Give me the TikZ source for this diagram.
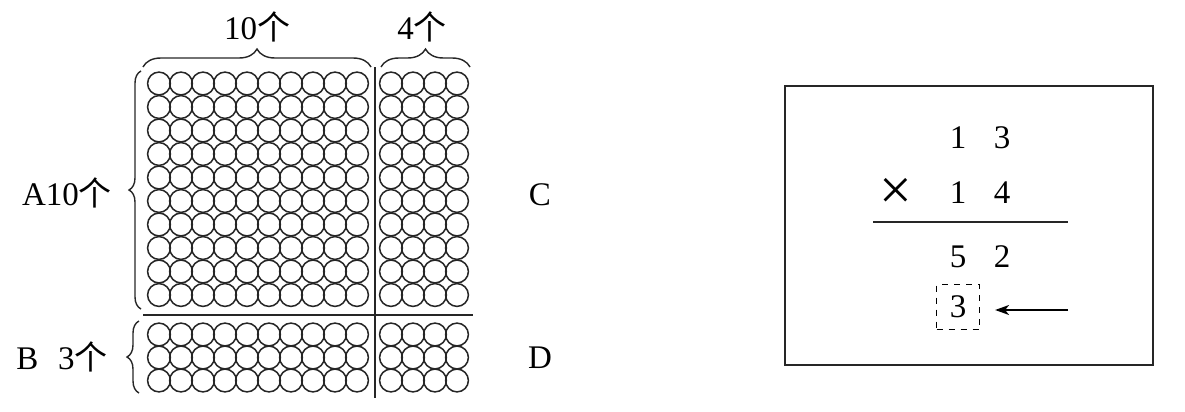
\documentclass[tikz,border=0pt]{standalone}
\usepackage{fontspec}
\setmainfont{Liberation Serif}
\newfontfamily\cjk{Noto Sans CJK SC}
\usepackage{tikz}
\usetikzlibrary{positioning,arrows.meta,calc,decorations.pathreplacing}
\tikzset{
  bead/.style={line width=0.75pt, draw=black!85},
  sepline/.style={line width=0.8pt, draw=black!85},
  grp/.style={decorate, line width=0.7pt, draw=black!85,
              decoration={brace, amplitude=#1}},
  grp/.default=6pt,
  lbl/.style={font=\fontsize{16.5}{19}\selectfont, inner sep=0pt},
  digit/.style={lbl},
  markbox/.style={lbl, draw, dashed, line width=0.6pt, minimum width=21.5pt, minimum height=22.5pt},
  ptr/.style={-{Stealth[length=7pt, width=5pt, inset=2pt]}, line width=0.7pt}
}
\newcommand{\gechar}{{\cjk 个}}

\begin{document}
\begin{tikzpicture}[x=0.5pt, y=-0.5pt]
    \useasboundingbox (0,0) rectangle (1185,412);
    % bead grid, top part (10 rows)
    \foreach \r in {0,...,9}{
      \foreach \c in {0,...,9}
        \draw[bead] (159+22*\c, 83.5+23.5*\r) circle[radius=5.7pt];
      \foreach \c in {0,...,3}
        \draw[bead] (391+22*\c, 83.5+23.5*\r) circle[radius=5.7pt];
    }
    % bottom part (3 rows)
    \foreach \r in {0,...,2}{
      \foreach \c in {0,...,9}
        \draw[bead] (159+22*\c, 334.5+23*\r) circle[radius=5.7pt];
      \foreach \c in {0,...,3}
        \draw[bead] (391+22*\c, 334.5+23*\r) circle[radius=5.7pt];
    }
    \coordinate (vtop) at (375,67);
    \coordinate (vbot) at (375,398);
    \coordinate (hl) at (143,315);
    \coordinate (hr) at (473,315);
    \draw[sepline] (vtop) -- (vbot);
    \draw[sepline] (hl) -- (hr);

    % braces
    \draw[grp=9pt] (143,67) -- (371,67);
    \draw[grp=9pt] (381,67) -- (470,67);
    \draw[grp] (141,309) -- (141,71);
    \draw[grp] (139,393) -- (139,321);

    \node[lbl] (ten) at (257,27) {10\gechar};
    \node[lbl] (four) at (422,27) {4\gechar};
    \node[lbl] (A) at (67,193) {A10\gechar};
    \node[lbl] (B) at (62,357) {B\hspace{0.6em}3\gechar};
    \node[lbl] (C) at (540,195) {C};
    \node[lbl] (D) at (540,358) {D};

    % vertical multiplication
    \draw[line width=0.8pt, draw=black!85] (785,86) rectangle (1153,365);
    \node[digit] (a1) at (958,138) {1};
    \node[digit] (a2) at (1002,138) {3};
    \node[digit, font=\fontsize{29}{30}\selectfont] (times) at (896,194) {×};
    \node[digit] (b1) at (958,193) {1};
    \node[digit] (b2) at (1002,193) {4};
    \coordinate (rl) at (873,222);
    \coordinate (rr) at (1068,222);
    \draw[sepline] (rl) -- (rr);
    \node[digit] (c1) at (958,257) {5};
    \node[digit] (c2) at (1002,257) {2};
    \node[markbox] (d1) at (958,307) {3};
    \coordinate (tail) at (1068,310);
    \draw[ptr, shorten >=7.5pt] (tail) -- (d1.east |- tail);
  \end{tikzpicture}
\end{document}
